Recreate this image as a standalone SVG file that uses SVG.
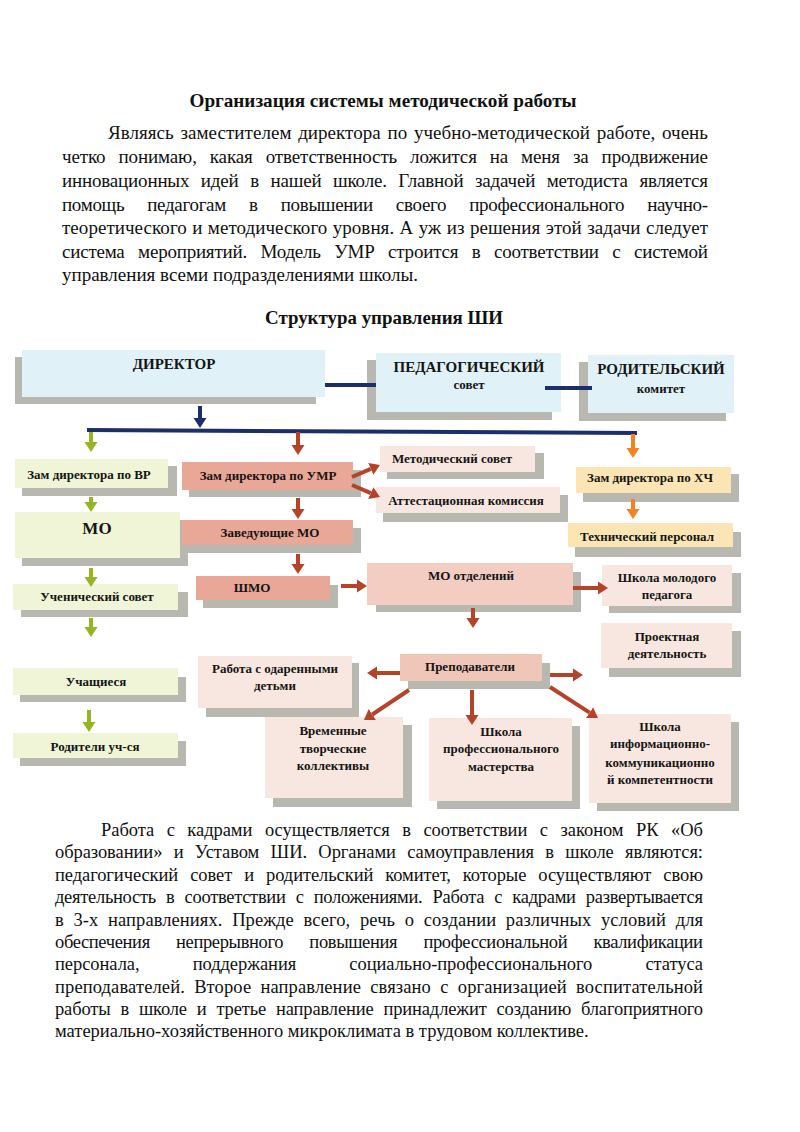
<svg xmlns="http://www.w3.org/2000/svg" width="800" height="1132" viewBox="0 0 800 1132">
<defs>
<style>
.sh{fill:#b8b8b0}
.blue{fill:#e0f2f7}
.green{fill:#eff5d6}
.salmon{fill:#e9a797}
.salmon2{fill:#f3cdc2}
.prep{fill:#f0c6b9}
.pink{fill:#f8e7e0}
.peach{fill:#fbe5b4}
.t{font-family:"Liberation Serif","Times New Roman",serif;font-weight:bold;font-size:13px;text-anchor:middle;fill:#151515}
.tb{font-family:"Liberation Serif","Times New Roman",serif;font-weight:bold;font-size:15px;text-anchor:middle;fill:#151515}
.h{font-family:"Liberation Serif","Times New Roman",serif;font-weight:bold;font-size:19px;text-anchor:middle;fill:#111}
.p1{font-family:"Liberation Serif","Times New Roman",serif;font-size:19px;fill:#111}
.p2{font-family:"Liberation Serif","Times New Roman",serif;font-size:18.5px;fill:#111}
.navy{stroke:#1d2f6a;stroke-width:4;fill:none}
.ag{stroke:#95b524;stroke-width:4;fill:none}
.ar{stroke:#b4432a;stroke-width:4;fill:none}
.ao{stroke:#f28322;stroke-width:4;fill:none}
</style>
<marker id="mn" markerUnits="userSpaceOnUse" markerWidth="10" markerHeight="14" viewBox="0 -7 10 14" refX="0" refY="0" orient="auto"><path d="M0,-6.5 L10,0 L0,6.5 z" fill="#1d2f6a"/></marker>
<marker id="mg" markerUnits="userSpaceOnUse" markerWidth="10" markerHeight="14" viewBox="0 -7 10 14" refX="0" refY="0" orient="auto"><path d="M0,-6.5 L10,0 L0,6.5 z" fill="#95b524"/></marker>
<marker id="mr" markerUnits="userSpaceOnUse" markerWidth="10" markerHeight="14" viewBox="0 -7 10 14" refX="0" refY="0" orient="auto"><path d="M0,-6.5 L10,0 L0,6.5 z" fill="#b4432a"/></marker>
<marker id="mo" markerUnits="userSpaceOnUse" markerWidth="10" markerHeight="14" viewBox="0 -7 10 14" refX="0" refY="0" orient="auto"><path d="M0,-6.5 L10,0 L0,6.5 z" fill="#f28322"/></marker>
</defs>
<rect width="800" height="1132" fill="#ffffff"/>

<g id="text-top">
<text class="h" x="383" y="107" textLength="387" lengthAdjust="spacingAndGlyphs">Организация системы методической работы</text>
<text class="p1" x="108" y="139" word-spacing="1.9" textLength="600" lengthAdjust="spacing">Являясь заместителем директора по учебно-методической работе, очень</text>
<text class="p1" x="62" y="163" word-spacing="8.3" textLength="646" lengthAdjust="spacing">четко понимаю, какая ответственность ложится на меня за продвижение</text>
<text class="p1" x="62" y="187" word-spacing="7" textLength="646" lengthAdjust="spacing">инновационных идей в нашей школе. Главной задачей методиста является</text>
<text class="p1" x="62" y="211" word-spacing="18.6" textLength="646" lengthAdjust="spacing">помощь педагогам в повышении своего профессионального научно-</text>
<text class="p1" x="62" y="234" word-spacing="0.6" textLength="646" lengthAdjust="spacing">теоретического и методического уровня. А уж из решения этой задачи следует</text>
<text class="p1" x="62" y="258" word-spacing="9" textLength="646" lengthAdjust="spacing">система мероприятий. Модель УМР строится в соответствии с системой</text>
<text class="p1" x="62" y="281">управления всеми подразделениями  школы.</text>
<text class="h" x="384" y="324" textLength="238" lengthAdjust="spacingAndGlyphs">Структура управления ШИ</text>
</g>

<g id="n-director"><rect class="sh" x="15" y="357" width="301" height="47"/><rect class="blue" x="22" y="350" width="303" height="47"/><text class="tb" x="174" y="369">ДИРЕКТОР</text></g>
<g id="n-pedsovet"><rect class="sh" x="367" y="360" width="185" height="60"/><rect class="blue" x="376" y="353" width="185" height="59"/><text class="tb" x="469" y="372">ПЕДАГОГИЧЕСКИЙ</text><text class="t" x="469" y="389">совет</text></g>
<g id="n-rodkom"><rect class="sh" x="579" y="362" width="147" height="59"/><rect class="blue" x="588" y="355" width="146" height="58"/><text class="tb" x="661" y="374">РОДИТЕЛЬСКИЙ</text><text class="t" x="661" y="393">комитет</text></g>

<g id="n-vr"><rect class="sh" x="22" y="466" width="155" height="30"/><rect class="green" x="15" y="459" width="153" height="29"/><text class="t" x="89" y="479">Зам директора по ВР</text></g>
<g id="n-umr"><rect class="sh" x="189" y="470" width="172" height="27"/><rect class="salmon" x="182" y="462" width="171" height="28"/><text class="t" x="268" y="480">Зам директора по УМР</text></g>
<g id="n-metsovet"><rect class="sh" x="387" y="453" width="157" height="26"/><rect class="pink" x="380" y="446" width="155" height="26"/><text class="t" x="452" y="463">Методический совет</text></g>
<g id="n-attest"><rect class="sh" x="383" y="495" width="185" height="27"/><rect class="pink" x="376" y="487" width="184" height="26"/><text class="t" x="466" y="505">Аттестационная комиссия</text></g>
<g id="n-xch"><rect class="sh" x="583" y="474" width="156" height="28"/><rect class="peach" x="576" y="467" width="155" height="26"/><text class="t" x="650" y="482">Зам директора по ХЧ</text></g>
<g id="n-tech"><rect class="sh" x="575" y="532" width="166" height="25"/><rect class="peach" x="568" y="523" width="165" height="24"/><text class="t" x="647" y="541">Технический персонал</text></g>

<g id="n-mo"><rect class="sh" x="22" y="520" width="166" height="46"/><rect class="green" x="15" y="512" width="165" height="46"/><text class="t" x="97" y="534" style="font-size:17px">МО</text></g>
<g id="n-zav"><rect class="sh" x="188" y="528" width="173" height="25"/><rect class="salmon" x="182" y="520" width="171" height="25"/><text class="t" x="270" y="537">Заведующие  МО</text></g>
<g id="n-uchsovet"><rect class="sh" x="21" y="592" width="167" height="25"/><rect class="green" x="13" y="584" width="165" height="26"/><text class="t" x="97" y="601">Ученический совет</text></g>
<g id="n-uchash"><rect class="sh" x="20" y="677" width="166" height="25"/><rect class="green" x="13" y="668" width="165" height="27"/><text class="t" x="96" y="686">Учащиеся</text></g>
<g id="n-rodit"><rect class="sh" x="20" y="741" width="166" height="25"/><rect class="green" x="13" y="733" width="165" height="25"/><text class="t" x="95" y="751">Родители уч-ся</text></g>

<g id="n-shmo"><rect class="sh" x="203" y="585" width="135" height="23"/><rect class="salmon" x="196" y="576" width="134" height="24"/><text class="t" x="252" y="592">ШМО</text></g>
<g id="n-mootd"><rect class="sh" x="376" y="572" width="205" height="40"/><rect class="salmon2" x="367" y="563" width="206" height="42"/><text class="t" x="471" y="580">МО отделений</text></g>
<g id="n-shmp"><rect class="sh" x="609" y="573" width="132" height="40"/><rect class="pink" x="602" y="565" width="130" height="41"/><text class="t" x="667" y="582">Школа молодого</text><text class="t" x="667" y="599">педагога</text></g>
<g id="n-proekt"><rect class="sh" x="609" y="631" width="132" height="46"/><rect class="pink" x="601" y="623" width="131" height="45"/><text class="t" x="667" y="641">Проектная</text><text class="t" x="667" y="658">деятельность</text></g>
<g id="n-prep"><rect class="sh" x="408" y="663" width="142" height="26"/><rect class="prep" x="400" y="654" width="142" height="27"/><text class="t" x="470" y="671">Преподаватели</text></g>
<g id="n-odar"><rect class="sh" x="206" y="663" width="153" height="54"/><rect class="pink" x="198" y="656" width="154" height="52"/><text class="t" x="275" y="673">Работа с одаренными</text><text class="t" x="275" y="690">детьми</text></g>
<g id="n-vrem"><rect class="sh" x="273" y="725" width="139" height="82"/><rect class="pink" x="265" y="717" width="138" height="81"/><text class="t" x="333" y="735">Временные</text><text class="t" x="333" y="753">творческие</text><text class="t" x="333" y="770">коллективы</text></g>
<g id="n-prof"><rect class="sh" x="437" y="726" width="143" height="83"/><rect class="pink" x="429" y="718" width="143" height="83"/><text class="t" x="501" y="736">Школа</text><text class="t" x="501" y="753">профессионального</text><text class="t" x="501" y="771">мастерства</text></g>
<g id="n-inf"><rect class="sh" x="597" y="722" width="142" height="89"/><rect class="pink" x="589" y="714" width="142" height="89"/><text class="t" x="660" y="731">Школа</text><text class="t" x="660" y="748">информационно-</text><text class="t" x="660" y="767">коммуникационно</text><text class="t" x="660" y="784">й компетентности</text></g>

<g id="connectors">
<line class="navy" x1="325" y1="385" x2="376" y2="385"/>
<line class="navy" x1="545" y1="388" x2="592" y2="388"/>
<line class="navy" x1="200" y1="406" x2="200" y2="418" marker-end="url(#mn)"/>
<line class="navy" x1="87" y1="430" x2="637" y2="433"/>
<line class="ag" x1="91" y1="432" x2="91" y2="442" marker-end="url(#mg)"/>
<line class="ar" x1="298" y1="432" x2="298" y2="445" marker-end="url(#mr)"/>
<line class="ao" x1="633" y1="434" x2="633" y2="448" marker-end="url(#mo)"/>
<line class="ar" x1="352" y1="477" x2="370.8" y2="468.9" marker-end="url(#mr)"/>
<line class="ar" x1="352" y1="485" x2="370.8" y2="493.1" marker-end="url(#mr)"/>
<line class="ao" x1="633" y1="499" x2="633" y2="509" marker-end="url(#mo)"/>
<line class="ag" x1="91" y1="497" x2="91" y2="502" marker-end="url(#mg)"/>
<line class="ar" x1="298" y1="498" x2="298" y2="509" marker-end="url(#mr)"/>
<line class="ag" x1="91" y1="568" x2="91" y2="577" marker-end="url(#mg)"/>
<line class="ar" x1="298" y1="554" x2="298" y2="564" marker-end="url(#mr)"/>
<line class="ar" x1="341" y1="586" x2="357" y2="586" marker-end="url(#mr)"/>
<line class="ar" x1="573" y1="588" x2="598" y2="588" marker-end="url(#mr)"/>
<line class="ag" x1="91" y1="618" x2="91" y2="627" marker-end="url(#mg)"/>
<line class="ar" x1="473" y1="608" x2="473" y2="618" marker-end="url(#mr)"/>
<line class="ar" x1="400" y1="673" x2="377" y2="673" marker-end="url(#mr)"/>
<line class="ar" x1="550" y1="675" x2="573" y2="675" marker-end="url(#mr)"/>
<line class="ar" x1="409" y1="690" x2="372.3" y2="714.5" marker-end="url(#mr)"/>
<line class="ar" x1="472" y1="690" x2="472" y2="715" marker-end="url(#mr)"/>
<line class="ar" x1="550" y1="687" x2="589.6" y2="712.6" marker-end="url(#mr)"/>
<line class="ag" x1="89" y1="710" x2="89" y2="722" marker-end="url(#mg)"/>
</g>

<g id="text-bottom">
<text class="p2" x="101" y="836" word-spacing="8" textLength="602" lengthAdjust="spacing">Работа с кадрами осуществляется в соответствии с законом РК «Об</text>
<text class="p2" x="55" y="858" word-spacing="6.8" textLength="648" lengthAdjust="spacing">образовании» и Уставом ШИ. Органами самоуправления в школе являются:</text>
<text class="p2" x="55" y="881" word-spacing="7.5" textLength="648" lengthAdjust="spacing">педагогический совет и родительский комитет, которые осуществляют свою</text>
<text class="p2" x="55" y="903" word-spacing="5.8" textLength="648" lengthAdjust="spacing">деятельность в соответствии с положениями. Работа с кадрами развертывается</text>
<text class="p2" x="55" y="926" word-spacing="5" textLength="648" lengthAdjust="spacing">в 3-х направлениях. Прежде всего, речь о создании различных условий для</text>
<text class="p2" x="55" y="948" word-spacing="22" textLength="648" lengthAdjust="spacing">обеспечения непрерывного повышения профессиональной  квалификации</text>
<text class="p2" x="55" y="970" word-spacing="48.6" textLength="648" lengthAdjust="spacing">персонала, поддержания социально-профессионального статуса</text>
<text class="p2" x="55" y="993" word-spacing="4.5" textLength="648" lengthAdjust="spacing">преподавателей. Второе направление связано с организацией воспитательной</text>
<text class="p2" x="55" y="1015" word-spacing="5.4" textLength="648" lengthAdjust="spacing">работы в школе и третье направление принадлежит созданию благоприятного</text>
<text class="p2" x="55" y="1037">материально-хозяйственного микроклимата в трудовом коллективе.</text>
</g>
</svg>
